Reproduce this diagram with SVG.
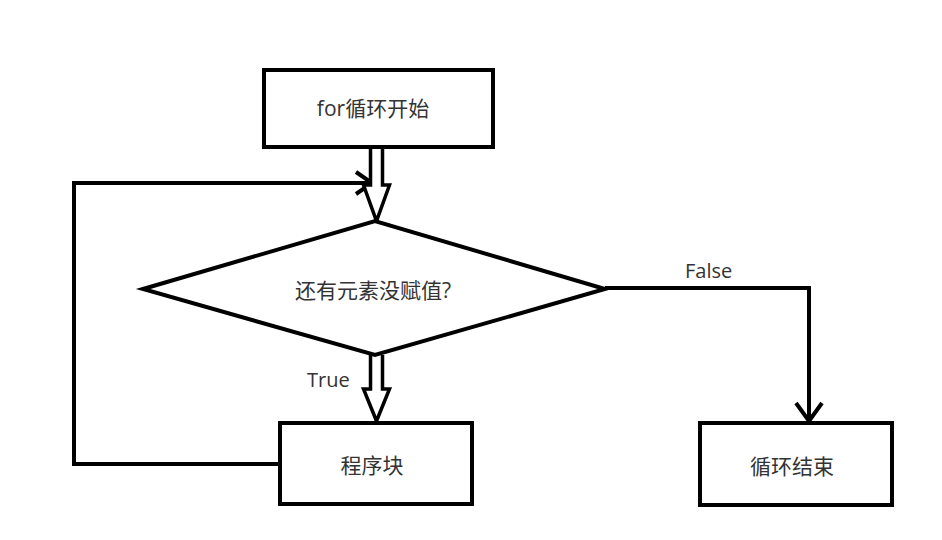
<svg xmlns="http://www.w3.org/2000/svg" width="942" height="540" viewBox="0 0 942 540">
<style>
.box{fill:#fff;stroke:#000;stroke-width:4}
.ln{fill:none;stroke:#000;stroke-width:4;stroke-linejoin:miter}
.hollow{fill:#fff;stroke:#000;stroke-width:3.5;stroke-linejoin:miter}
.t{font-family:"Open Sans","Noto Sans CJK SC",sans-serif;font-size:21px;fill:#333;text-anchor:middle;dominant-baseline:central}
.lbl{font-family:"Open Sans","Noto Sans",sans-serif;font-size:20px;fill:#333}
</style>
<rect width="942" height="540" fill="#fff"/>
<g id="connectors">
<path class="ln" d="M278,464 H74 V183 H370"/>
<path class="ln" d="M356,172 L372,183 L356,194"/>
<path class="hollow" d="M370.5,149 V185 H363.5 L376.5,221 L389.5,185 H382.5 V149"/>
<path class="hollow" d="M370.5,355 V389 H363.5 L376.5,421 L389.5,389 H382.5 V355"/>
<path class="ln" d="M605,288 H809 V420"/>
<path class="ln" d="M796,403 L809,421 L822,403"/>
<text class="lbl" x="307" y="387">True</text>
<text class="lbl" x="685" y="278">False</text>
</g>
<g id="start">
<rect class="box" x="264" y="70" width="229" height="77"/>
<text class="t" x="373" y="108">for循环开始</text>
</g>
<g id="decision">
<polygon class="box" points="143,289 375,221 605,289 375,355"/>
<text class="t" x="373" y="290">还有元素没赋值?</text>
</g>
<g id="block">
<rect class="box" x="280" y="423" width="192" height="81"/>
<text class="t" x="372" y="465">程序块</text>
</g>
<g id="end">
<rect class="box" x="700" y="423" width="192" height="82"/>
<text class="t" x="792" y="466">循环结束</text>
</g>
</svg>
